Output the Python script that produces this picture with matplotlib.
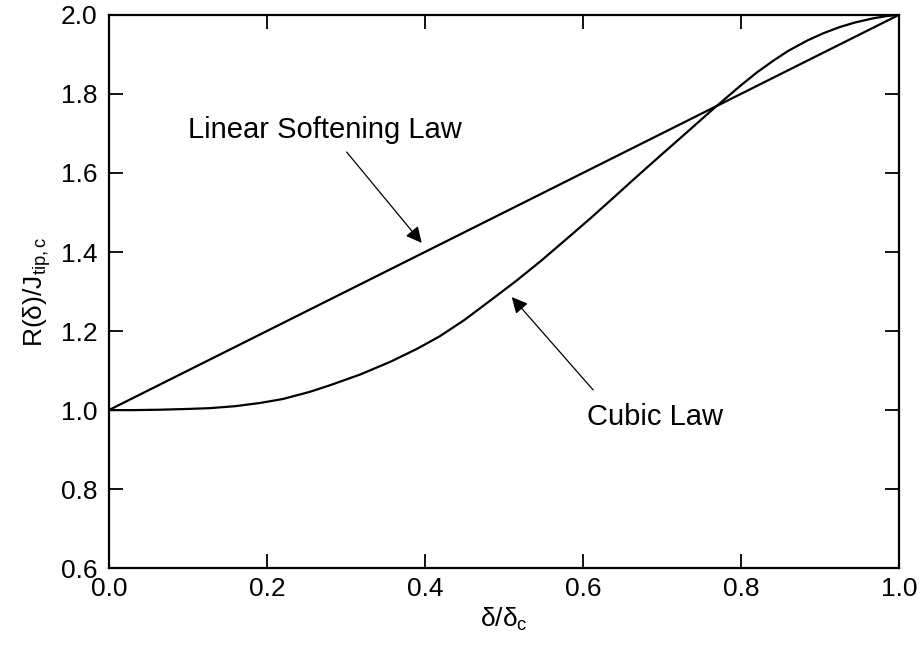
import matplotlib
matplotlib.use("Agg")
import matplotlib.pyplot as plt

plt.rcParams['font.family'] = ['Liberation Sans', 'DejaVu Sans']
plt.rcParams['mathtext.fontset'] = 'custom'
plt.rcParams['mathtext.rm'] = 'Liberation Sans'
plt.rcParams['mathtext.it'] = 'Liberation Sans'

# linear softening law
linear_x = [0.0, 1.0]
linear_y = [1.0, 2.0]

# cubic law
cubic_x = [0.0, 0.03, 0.064, 0.1, 0.128, 0.16, 0.191, 0.22, 0.254, 0.28,
           0.318, 0.356, 0.39, 0.419, 0.45, 0.482, 0.515, 0.546, 0.584,
           0.61, 0.634, 0.665, 0.697, 0.73, 0.765, 0.799, 0.82, 0.841,
           0.86, 0.884, 0.905, 0.925, 0.945, 0.967, 0.985, 1.0]
cubic_y = [1.0, 1.0, 1.001, 1.003, 1.005, 1.010, 1.018, 1.028, 1.046, 1.063,
           1.090, 1.122, 1.155, 1.187, 1.228, 1.276, 1.326, 1.376, 1.441,
           1.486, 1.529, 1.585, 1.642, 1.700, 1.762, 1.820, 1.854, 1.884,
           1.909, 1.935, 1.954, 1.969, 1.981, 1.991, 1.997, 2.0]

x_ticks = [0.0, 0.2, 0.4, 0.6, 0.8, 1.0]
y_ticks = [0.6, 0.8, 1.0, 1.2, 1.4, 1.6, 1.8, 2.0]

fig = plt.figure(figsize=(9.22, 6.45), dpi=100)
ax = fig.add_axes([0.118, 0.119, 0.857, 0.858])

ax.plot(linear_x, linear_y, color='black', lw=1.6)
ax.plot(cubic_x, cubic_y, color='black', lw=1.6, solid_joinstyle='round')

ax.set_xlim(0, 1)
ax.set_ylim(0.6, 2.0)
ax.set_xticks(x_ticks)
ax.set_yticks(y_ticks)
ax.set_xticklabels([f"{v:.1f}" for v in x_ticks])
ax.set_yticklabels([f"{v:.1f}" for v in y_ticks])
ax.tick_params(direction='in', length=10, width=1.3, labelsize=19,
               top=True, right=True)
ax.tick_params(axis='x', pad=6)
ax.tick_params(axis='y', pad=8)
for s in ax.spines.values():
    s.set_linewidth(1.6)

ax.set_xlabel(r"δ/δ$_\mathrm{c}$", fontsize=19, labelpad=4)
ax.set_ylabel(r"R(δ)/J$_\mathrm{tip,c}$", fontsize=19, labelpad=6)

arrow = dict(arrowstyle='-|>', color='black', lw=0.9, mutation_scale=24,
             shrinkA=0, shrinkB=0)
ax.text(0.100, 1.689, "Linear Softening Law", fontsize=21,
        ha='left', va='baseline')
ax.annotate("", xy=(0.396, 1.423), xytext=(0.301, 1.653), arrowprops=arrow)
ax.text(0.605, 0.962, "Cubic Law", fontsize=21, ha='left', va='baseline')
ax.annotate("", xy=(0.510, 1.286), xytext=(0.613, 1.051), arrowprops=arrow)

fig.savefig("out.png", dpi=100)
